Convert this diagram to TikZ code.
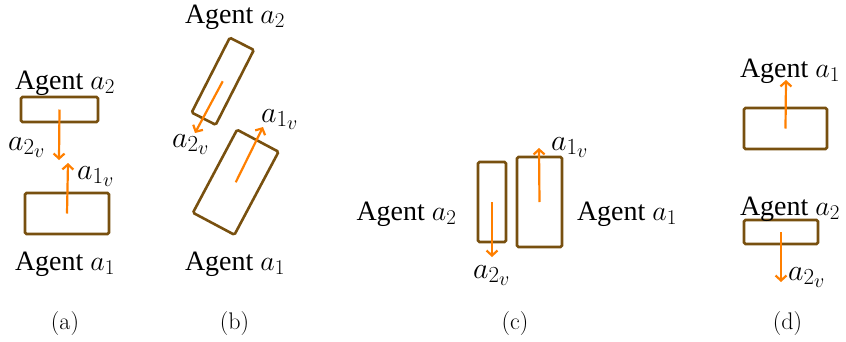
\RequirePackage{fix-cm}
\documentclass[tikz,border=0pt]{standalone}
\usepackage{fontspec}
\usetikzlibrary{arrows.meta}
\newfontfamily\agentfont{Liberation Serif}
\DeclareMathSizes{28}{28}{21}{18}
\DeclareMathSizes{30}{30}{23}{20}
\definecolor{agentbrown}{RGB}{120,80,15}
\definecolor{velorange}{RGB}{255,127,0}
\begin{document}
\begin{tikzpicture}[x=1pt,y=-1pt]
\tikzstyle{box}=[draw=agentbrown,line width=2.6pt,rounded corners=1.5pt,inner sep=0pt]
\tikzstyle{vel}=[draw=velorange,line width=2.2pt,-{Straight Barb[length=5pt,width=11pt]}]
\tikzstyle{lab}=[font=\agentfont\fontsize{28}{32}\selectfont,inner sep=0pt,anchor=base]
\tikzstyle{vlab}=[font=\fontsize{30}{34}\selectfont,inner sep=0pt,anchor=base west]
\tikzstyle{subcap}=[font=\fontsize{24}{28}\selectfont,inner sep=0pt,anchor=base]
\useasboundingbox (0,0) rectangle (846,341);
% (a) head-on
\node[box,minimum width=77pt,minimum height=25pt] (aB) at (59.5,109.5) {};
\node[box,minimum width=84pt,minimum height=41pt] (aA) at (67,213.5) {};
\coordinate (aBv) at (59,160);
\coordinate (aAv) at (68,163);
\draw[vel] (aB.center) -- (aBv);
\draw[vel] (aA.center) -- (aAv);
\node[lab] (aBt) at (65,89) {Agent $a_2$};
\node[lab] (aAt) at (65,270) {Agent $a_1$};
\node[vlab] (aBl) at (8,150) {$a_{2_v}$};
\node[vlab] (aAl) at (77,179) {$a_{1_v}$};
% (b) oblique
\node[box,minimum width=27pt,minimum height=84pt,rotate=-27] (bB) at (222.75,81.25) {};
\node[box,minimum width=47pt,minimum height=94pt,rotate=-28] (bA) at (235.75,182.25) {};
\coordinate (bBv) at (195,133);
\coordinate (bAv) at (263,127);
\draw[vel] (bB.center) -- (bBv);
\draw[vel] (bA.center) -- (bAv);
\node[lab] (bBt) at (235,23) {Agent $a_2$};
\node[lab] (bAt) at (235,270) {Agent $a_1$};
\node[vlab] (bBl) at (172,147) {$a_{2_v}$};
\node[vlab] (bAl) at (261,122) {$a_{1_v}$};
% (c) side by side
\node[box,minimum width=28pt,minimum height=80pt] (cB) at (492,202) {};
\node[box,minimum width=45pt,minimum height=90pt] (cA) at (539.5,202) {};
\coordinate (cBv) at (492,257);
\coordinate (cAv) at (539,148);
\draw[vel] (cB.center) -- (cBv);
\draw[vel] (cA.center) -- (cAv);
\node[lab] (cBt) at (406.5,220) {Agent $a_2$};
\node[lab] (cAt) at (627,220) {Agent $a_1$};
\node[vlab] (cBl) at (473,278) {$a_{2_v}$};
\node[vlab] (cAl) at (551,150) {$a_{1_v}$};
% (d) same direction
\node[box,minimum width=83pt,minimum height=41pt] (dA) at (785.5,128.5) {};
\node[box,minimum width=74pt,minimum height=24pt] (dB) at (781,232) {};
\coordinate (dAv) at (786,80);
\coordinate (dBv) at (781,282);
\draw[vel] (dA.center) -- (dAv);
\draw[vel] (dB.center) -- (dBv);
\node[lab] (dAt) at (790,77) {Agent $a_1$};
\node[lab] (dBt) at (790,215) {Agent $a_2$};
\node[vlab] (dBl) at (788,280) {$a_{2_v}$};
% captions
\node[subcap] (ca) at (65,329) {(a)};
\node[subcap] (cb) at (234.5,329) {(b)};
\node[subcap] (cc) at (515,329) {(c)};
\node[subcap] (cd) at (787.5,329) {(d)};
\end{tikzpicture}
\end{document}
